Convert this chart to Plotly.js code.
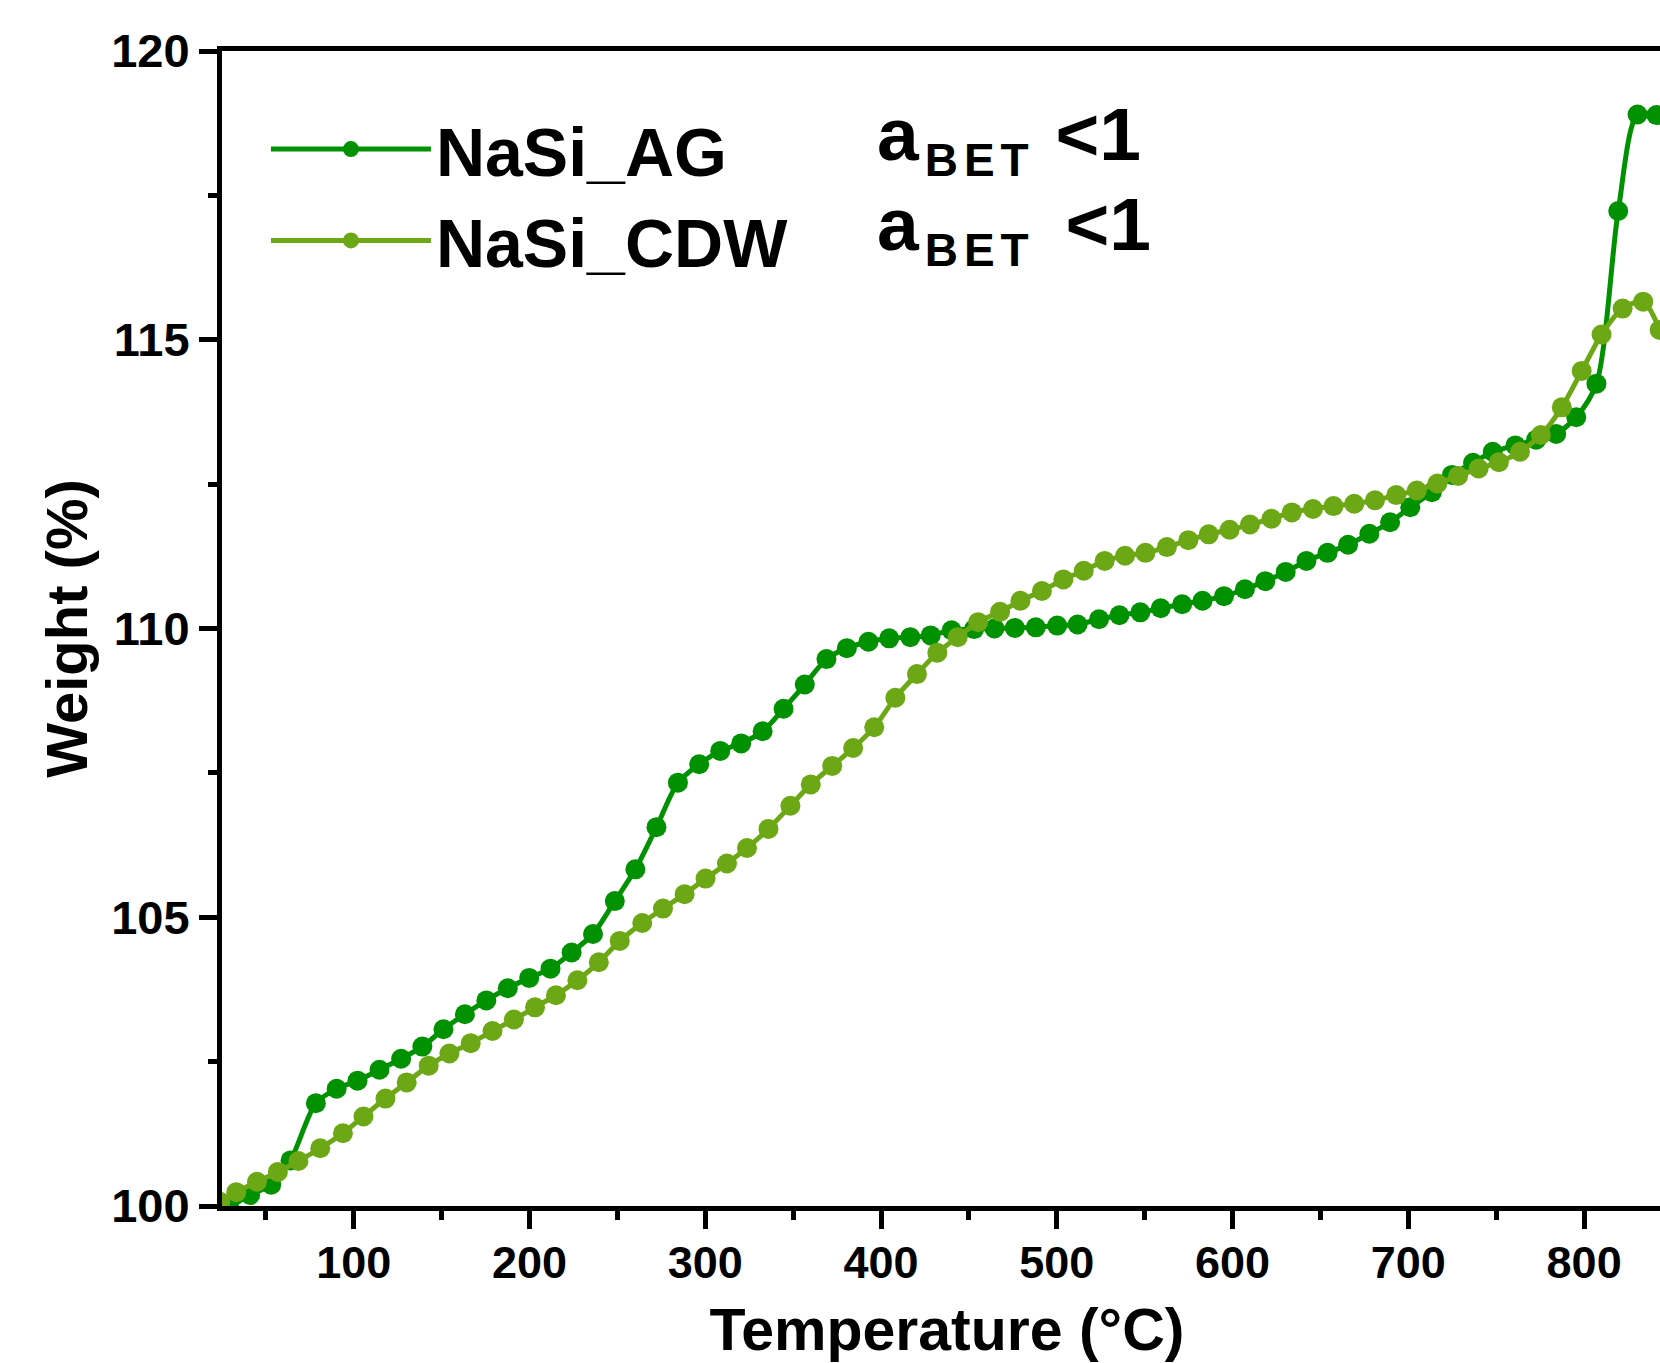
<!DOCTYPE html>
<html>
<head>
<meta charset="utf-8">
<script src="https://cdn.plot.ly/plotly-3.0.1.min.js"></script>
<style>html,body{margin:0;padding:0;overflow:hidden;background:#fff;}</style>
</head>
<body>
<div id="chart" style="width:1700px;height:1363px;"></div>
<script>
const seriesNames = ['NaSi_AG', 'NaSi_CDW'];
const seriesColors = ['#009100', '#6ca815'];

const agTemp = [29, 41, 53, 64, 78.4, 90.2, 102.1, 114.6, 126.9, 139, 151, 163.2, 175.4, 187.6, 199.8,
  211.9, 223.9, 236.1, 248.5, 260.2, 272.2, 284.4, 296.5, 308.5, 320.4, 332.6, 344.5, 356.6, 368.9,
  380.5, 392.8, 404.6, 416.6, 428.2, 440.1, 452.9, 464.5, 476.1, 488.0, 500.2, 511.8, 524.0, 535.6,
  547.5, 559.1, 571.3, 582.9, 595.1, 607.0, 618.6, 630.2, 642, 654, 665.7, 677.8, 689.6, 701.1,
  713.4, 724.8, 736.8, 748.0, 760.9, 772.7, 784.1, 795.5, 807.0, 819.4, 830.4, 841.2];
const agWeight = [99.98, 100.19, 100.37, 100.79, 101.78, 102.03, 102.17, 102.36, 102.55, 102.76, 103.06,
  103.32, 103.56, 103.77, 103.95, 104.11, 104.39, 104.71, 105.28, 105.83, 106.56, 107.33, 107.65,
  107.88, 108.01, 108.22, 108.61, 109.03, 109.47, 109.66, 109.77, 109.83, 109.85, 109.88, 109.97,
  109.99, 110.0, 110.01, 110.02, 110.05, 110.07, 110.16, 110.23, 110.28, 110.35, 110.42, 110.48,
  110.56, 110.68, 110.82, 110.98, 111.17, 111.31, 111.45, 111.64, 111.84, 112.10, 112.36, 112.66,
  112.87, 113.06, 113.17, 113.27, 113.37, 113.66, 114.24, 117.23, 118.9, 118.89];

const cdwTemp = [24, 33.1, 44.9, 56.8, 68.5, 80.9, 93.8, 105.5, 118.0, 130.1, 142.6, 154.4, 166.5, 178.9,
  191.1, 203.1, 215.0, 227.2, 239.4, 251.3, 264.1, 275.9, 288.2, 300.1, 312.3, 323.7, 335.9, 348.4,
  360.0, 372.2, 384.1, 396.1, 408.1, 420.4, 432.0, 443.6, 455.2, 467.7, 479.3, 491.5, 503.7, 515.3,
  527.2, 538.8, 550.4, 562.6, 574.8, 586.4, 598.3, 609.9, 622.1, 633.7, 645.7, 657.4, 669.2, 681.0,
  693.1, 704.8, 716.5, 728.3, 740.0, 751.5, 763.5, 775.4, 787.3, 798.6, 809.9, 821.9, 833.6, 843];
const cdwWeight = [100.07, 100.24, 100.42, 100.59, 100.78, 101.0, 101.26, 101.55, 101.86, 102.14, 102.43,
  102.64, 102.82, 103.03, 103.23, 103.44, 103.65, 103.91, 104.22, 104.59, 104.9, 105.15, 105.4,
  105.67, 105.93, 106.2, 106.53, 106.93, 107.3, 107.62, 107.93, 108.29, 108.8, 109.21, 109.58,
  109.85, 110.11, 110.29, 110.48, 110.65, 110.85, 111.0, 111.17, 111.26, 111.31, 111.41, 111.53,
  111.63, 111.71, 111.80, 111.90, 112.01, 112.07, 112.12, 112.16, 112.22, 112.31, 112.39, 112.51,
  112.64, 112.77, 112.88, 113.06, 113.35, 113.83, 114.46, 115.09, 115.54, 115.66, 115.17];

const xTickVals = [100, 200, 300, 400, 500, 600, 700, 800];
const xTickText = ['100', '200', '300', '400', '500', '600', '700', '800'];
const yTickVals = [100, 105, 110, 115, 120];
const yTickText = ['100', '105', '110', '115', '120'];
const annotationTexts = [
  '<span style="letter-spacing:6px">a</span><sub><span style="font-size:46px;letter-spacing:6px">BET</span></sub> &lt;1',
  '<span style="letter-spacing:6px">a</span><sub><span style="font-size:46px;letter-spacing:6px">BET\u200A</span></sub> &lt;1'
];
const xTitle = 'Temperature (°C)';
const yTitle = 'Weight (%)';

const FONT = 'Liberation Sans, Arial, sans-serif';

const traces = [
  {x: agTemp, y: agWeight, name: seriesNames[0]},
  {x: cdwTemp, y: cdwWeight, name: seriesNames[1]}
].map((t, i) => Object.assign(t, {
  type: 'scatter',
  mode: 'lines+markers',
  line: {color: seriesColors[i], width: 5, shape: 'spline', smoothing: 0.8},
  marker: {color: seriesColors[i], size: 20}
}));

const axisCommon = {
  showgrid: false, zeroline: false,
  showline: true, linecolor: '#000', linewidth: 5, mirror: true,
  ticks: 'outside', ticklen: 18, tickwidth: 5, tickcolor: '#000'
};

const layout = {
  width: 1700, height: 1363,
  margin: {l: 222, r: 28, t: 51, b: 157},
  paper_bgcolor: '#fff', plot_bgcolor: '#fff',
  showlegend: true,
  legend: {
    x: 0.0303, y: 0.959, xanchor: 'left', yanchor: 'top',
    bgcolor: 'rgba(0,0,0,0)', borderwidth: 0,
    font: {family: FONT, size: 68, color: '#000', weight: 700},
    itemwidth: 160, tracegroupgap: 0
  },
  xaxis: Object.assign({}, axisCommon, {
    range: [25, 850],
    tickmode: 'array', tickvals: xTickVals, ticktext: xTickText,
    tickfont: {family: FONT, size: 45, color: '#000', weight: 700},
    ticklabelstandoff: -5,
    minor: {dtick: 50, tick0: 0, ticks: 'outside', ticklen: 9, tickwidth: 5, tickcolor: '#000'},
    title: {text: xTitle, font: {family: FONT, size: 59, color: '#000', weight: 700}, standoff: 53}
  }),
  yaxis: Object.assign({}, axisCommon, {
    range: [100, 120],
    tickmode: 'array', tickvals: yTickVals, ticktext: yTickText,
    tickfont: {family: FONT, size: 47, color: '#000', weight: 700},
    minor: {dtick: 2.5, tick0: 100, ticks: 'outside', ticklen: 9, tickwidth: 5, tickcolor: '#000'},
    title: {text: yTitle, font: {family: FONT, size: 58, color: '#000', weight: 700}, standoff: 6}
  }),
  annotations: annotationTexts.map((txt, i) => ({
    text: txt, xref: 'paper', yref: 'paper',
    x: 0.450, y: [0.924, 0.8455][i], xanchor: 'left', yanchor: 'middle',
    showarrow: false, align: 'left',
    font: {family: FONT, size: 75, color: '#000', weight: 700}
  }))
};

Plotly.newPlot('chart', traces, layout, {displayModeBar: false, staticPlot: true});
</script>
</body>
</html>
